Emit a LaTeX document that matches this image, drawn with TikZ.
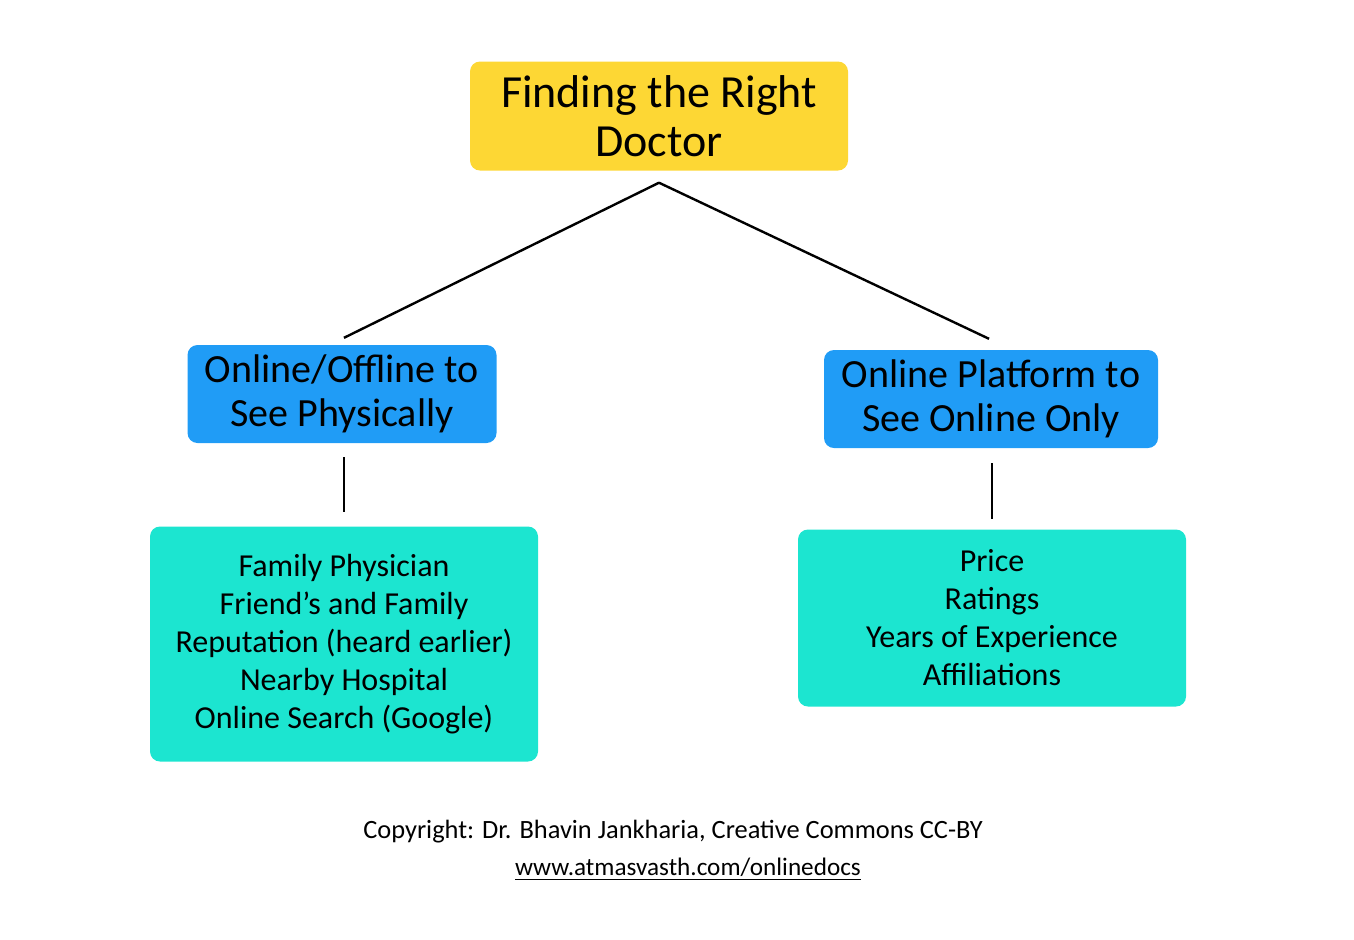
\documentclass[tikz,border=0pt]{standalone}
\usepackage{fontspec}
\setmainfont{Carlito}
\usepackage{xcolor}
\usepackage{tikz}
\definecolor{TopYellow}{RGB}{253,215,52}
\definecolor{BranchBlue}{RGB}{32,156,246}
\definecolor{DetailTeal}{RGB}{28,229,208}

\begin{document}
\begin{tikzpicture}[x=0.5pt, y=-0.5pt,
  topic/.style={rectangle, rounded corners=5pt, fill=TopYellow, align=center,
    minimum width=189pt, minimum height=54.5pt, inner sep=0pt,
    font=\fontsize{23}{24.5}\selectfont},
  %
  branch/.style={rectangle, rounded corners=5pt, fill=BranchBlue, align=center,
    minimum height=49pt, inner sep=0pt,
    font=\fontsize{20}{22}\selectfont},
  %
  details/.style={rectangle, rounded corners=5pt, fill=DetailTeal, align=center,
    minimum width=194pt, inner sep=0pt,
    font=\fontsize{16}{19}\selectfont},
  %
  credit/.style={align=center, inner sep=0pt, font=\fontsize{13.2}{15}\selectfont}
  ]

  \tikzset{every path/.style={line width=1.2pt}}
  \useasboundingbox (0,0) rectangle (1354,939);

  %%%%%%%%%%%%%%%%%%%%%%%%%%%%%%%
  \node [topic] (doctor) at (659,116) {Finding the Right\\Doctor};
  %%%%%%%%%%%%%%%%%%%%%%%%%%%%%%%
  \node [branch, minimum width=154.5pt] (physical) at (342,394)
    {Online/Offline to\\See Physically};
  \node [branch, minimum width=167pt] (online) at (991,399)
    {Online Platform to\\See Online Only};
  %%%%%%%%%%%%%%%%%%%%%%%%%%%%%%%
  \node [details, minimum height=117.5pt] (physlist) at (344,644)
    {Family Physician\\Friend's and Family\\Reputation (heard earlier)\\
     Nearby Hospital\\Online Search (Google)};
  \node [details, minimum height=88.5pt] (onlinelist) at (992,618)
    {Price\\Ratings\\Years of Experience\\Affiliations};
  %%%%%%%%%%%%%%%%%%%%%%%%%%%%%%%
  \node [credit] (copyright) at (673,832)
    {Copyright: Dr. Bhavin Jankharia, Creative Commons CC-BY};
  \node [credit, font=\fontsize{12.6}{15}\selectfont] (website) at (688,869)
    {\underline{www.atmasvasth.com/onlinedocs}};

  \begin{scope}
    \draw ([yshift=-5.5pt]doctor.south) -- ([yshift=3pt]physical.north -| physlist.north);
    \draw ([yshift=-5.5pt]doctor.south) -- ([xshift=-1pt, yshift=5pt]online.north);
    \draw ([yshift=-6.5pt]physical.south -| physlist.north) -- ([yshift=6.5pt]physlist.north);
    \draw ([yshift=-7pt]online.south -| onlinelist.north) -- ([yshift=4.5pt]onlinelist.north);
  \end{scope}

\end{tikzpicture}
\end{document}
